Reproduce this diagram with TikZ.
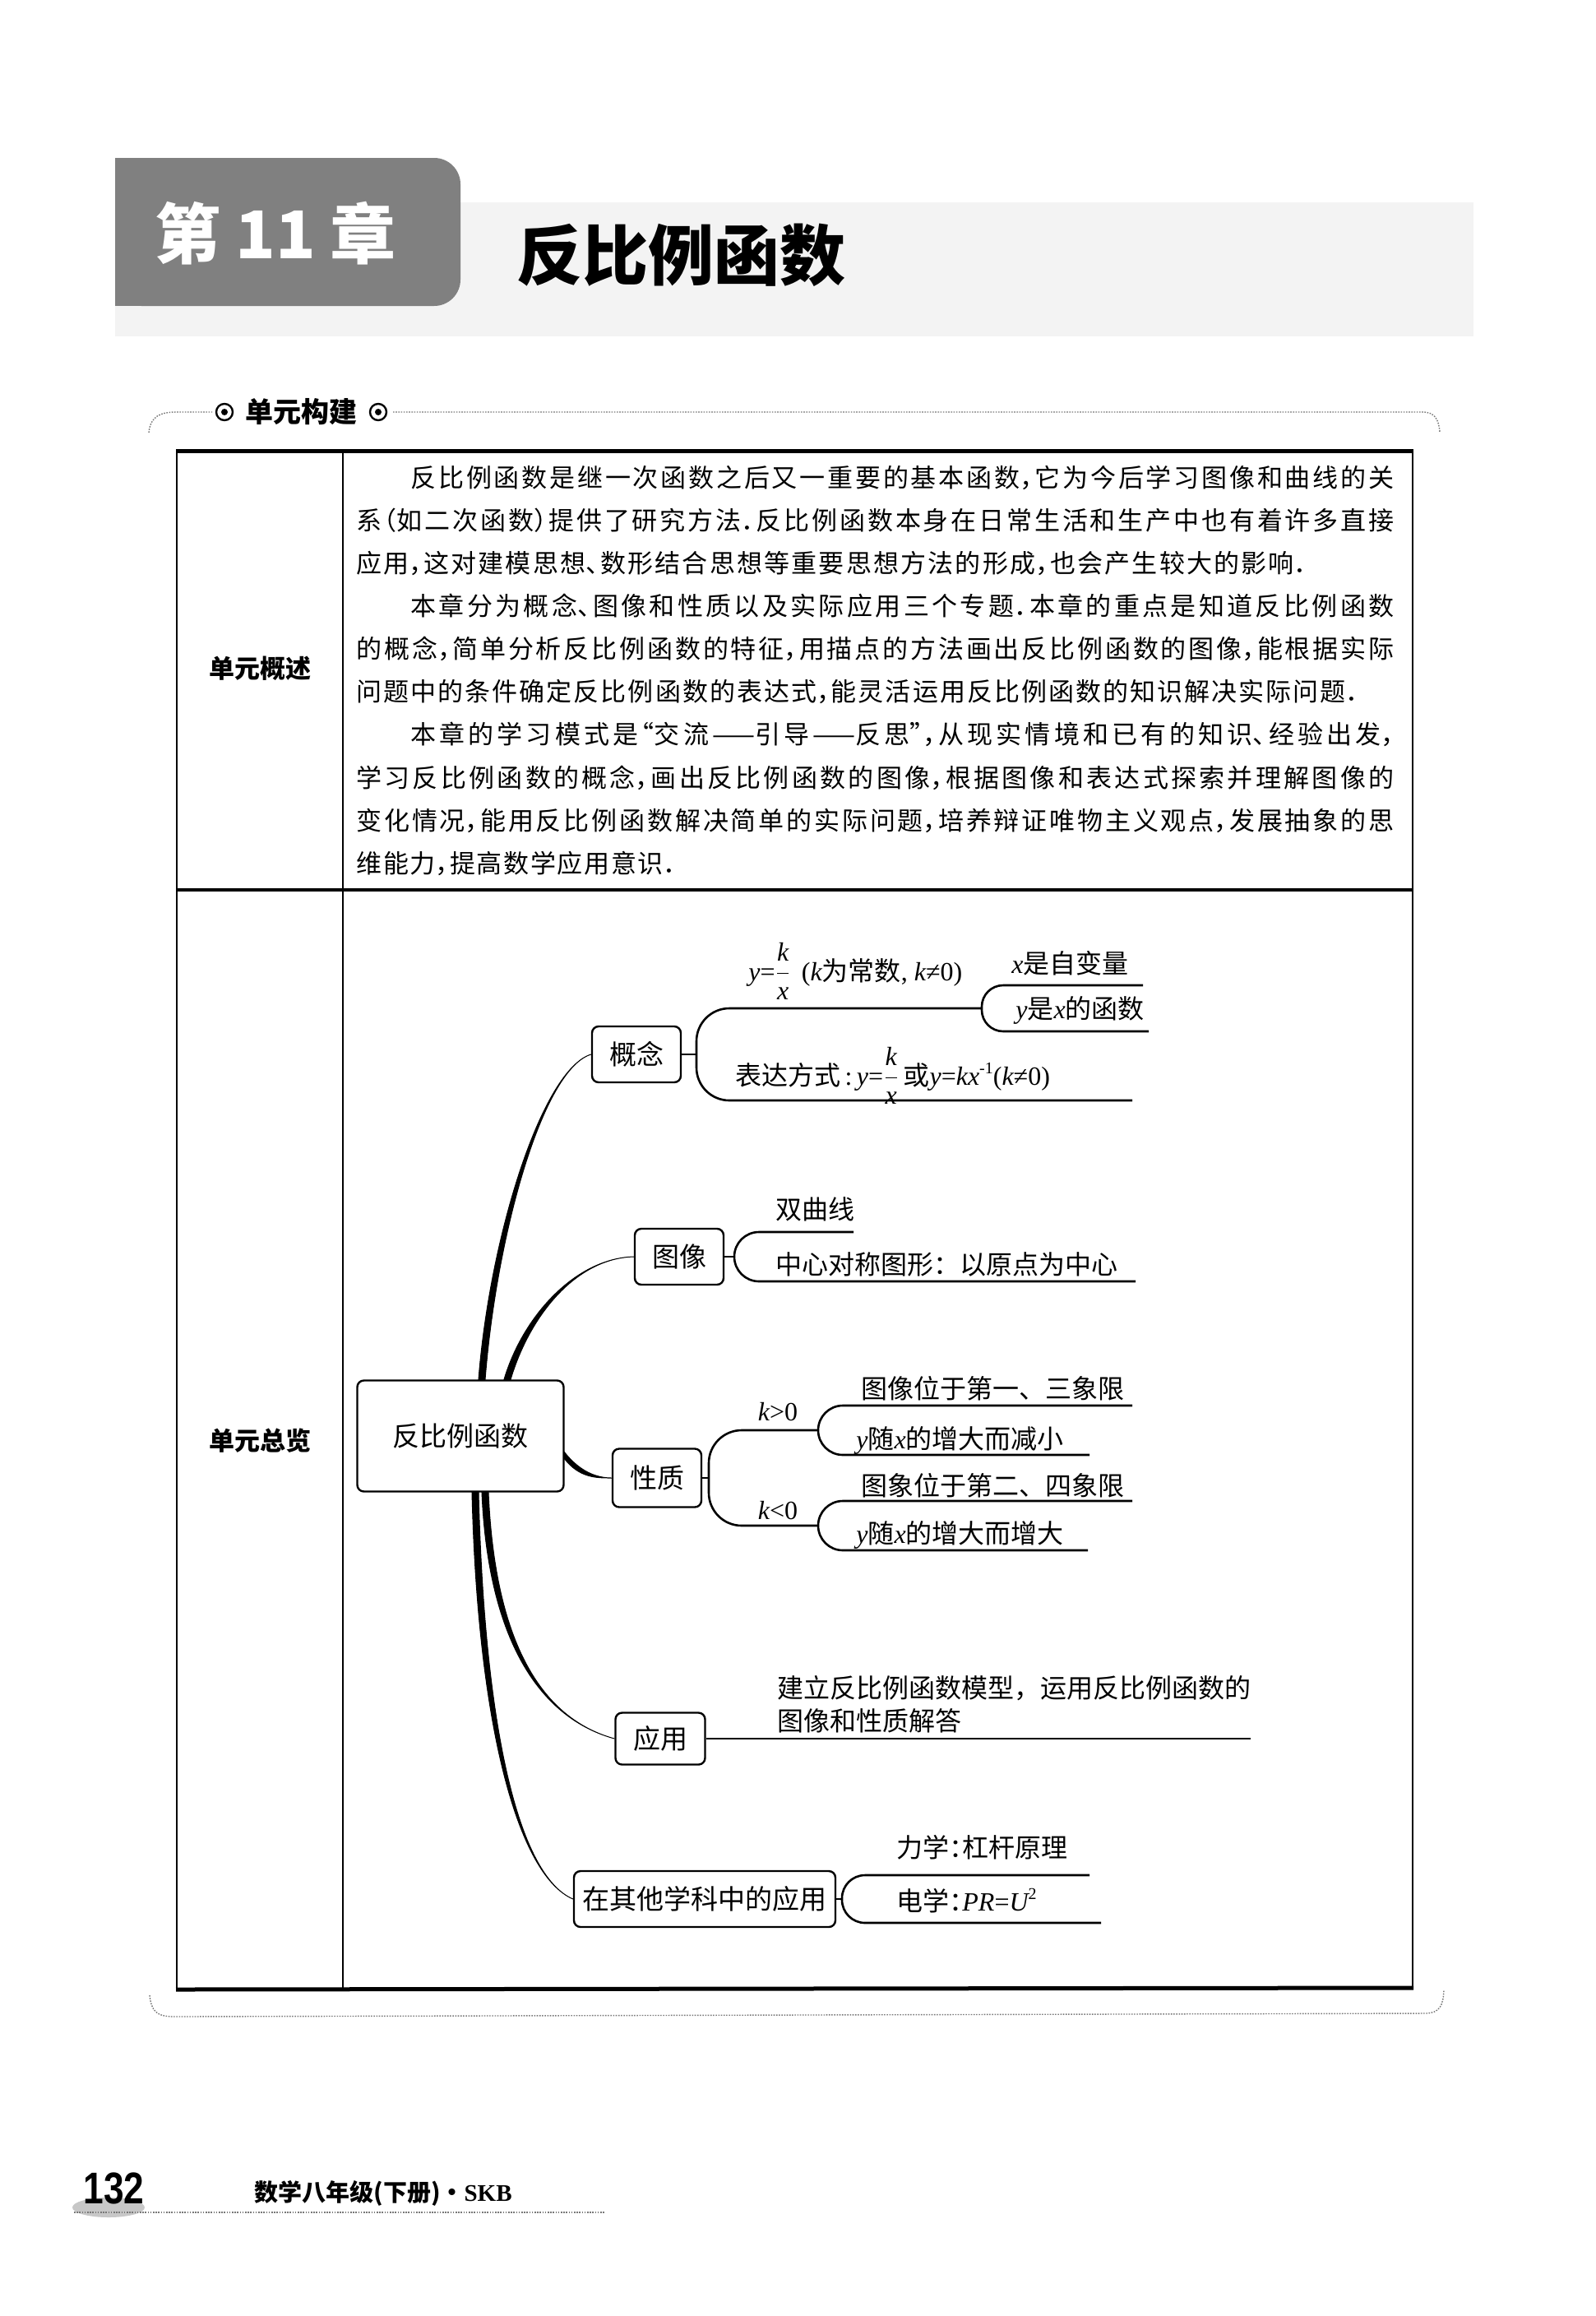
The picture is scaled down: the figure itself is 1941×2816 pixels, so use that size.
\documentclass[tikz,border=0pt]{standalone}
\usepackage{fontspec}
\usepackage{graphicx}
\usetikzlibrary{calc}
\newfontfamily\cjk{Noto Sans CJK SC}[RawFeature=+halt]
\newfontfamily\cjkplain{Noto Sans CJK SC}
\newfontfamily\numfont{Liberation Sans}
\newfontfamily\lat{Liberation Serif}
\XeTeXlinebreaklocale "zh"
\XeTeXlinebreakskip=0pt plus 4pt minus 1pt
\definecolor{titlegray}{RGB}{128,128,128}
\definecolor{bandgray}{RGB}{243,243,243}
\definecolor{dotgray}{RGB}{120,120,120}
\newcommand\bodyfont{\cjk\fontsize{15.5pt}{18pt}\selectfont}
\newcommand\mapfont{\cjkplain\fontsize{16pt}{20pt}\selectfont}
\newcommand\boxfont{\cjkplain\fontsize{16.5pt}{20pt}\selectfont}
\newcommand\li[1]{{\lat\itshape #1}}
\newcommand\lu[1]{{\lat #1}}
\newcommand\hc[1]{{\cjk #1}}
\newcommand\fr[2]{$\displaystyle\frac{\hbox{\li{#1}}}{\hbox{\li{#2}}}$}
\newcommand\sups[1]{\raisebox{0.75ex}{\lat\fontsize{10pt}{10pt}\selectfont #1}}
\newcommand\pline[4]{\node[para] (#1) at (#2) {\parbox[b]{#3}{\linepenalty=5000\relax\parfillskip=0pt\relax #4\par}};}
\newcommand\taper[5]{%
  \filldraw[line width=0.5pt] ($(#1)+(#5)$) .. controls ($(#2)+(#5)$) and (#3) .. (#4)
    .. controls (#3) and ($(#2)-(#5)$) .. ($(#1)-(#5)$) -- cycle;}
\tikzset{
  mbox/.style={draw, line width=1.2pt, rounded corners=4pt, inner sep=0pt, font=\boxfont},
  mtext/.style={anchor=base west, inner sep=0pt, font=\mapfont},
  branch/.style={line width=1.3pt},
  para/.style={anchor=base west, inner sep=0pt, font=\bodyfont},
  dotline/.style={dotgray, dash pattern=on 0.8pt off 0.8pt, line width=0.7pt},
}
\begin{document}
\begin{tikzpicture}[x=0.5pt,y=-0.5pt]
\useasboundingbox (0,0) rectangle (1941,2816);
\fill[white] (0,0) rectangle (1941,2816);

% title block
\fill[bandgray] (140,246) rectangle (1792,409);
\fill[titlegray, rounded corners=16pt] (140,192) rectangle (560,372);
\fill[titlegray] (140,192) rectangle (420,372);
\node[text=white, font=\cjkplain\bfseries\fontsize{40pt}{44pt}\selectfont] (chap) at (335,284) {第\hspace{9pt}11\hspace{9pt}章};
\node[anchor=west, inner sep=0pt, font=\cjkplain\bfseries\fontsize{40pt}{44pt}\selectfont] (ttl) at (628,310) {反比例函数};

% section header
\draw[dotline] (181,526) .. controls (183,506) and (195,501) .. (215,501) -- (258,501);
\draw[dotline] (478,501) -- (1730,501) .. controls (1745,501) and (1750,510) .. (1751,526);
\draw[line width=1.2pt] (273,501) circle (5pt);
\fill (273,501) circle (2pt);
\draw[line width=1.2pt] (460,501) circle (5pt);
\fill (460,501) circle (2pt);
\node[font=\cjkplain\bfseries\fontsize{17pt}{20pt}\selectfont] (hdr) at (366,501) {单元构建};

% table
\draw[line width=1.2pt] (215,548) -- (215,2419);
\draw[line width=1.2pt] (1718,548) -- (1718,2417);
\draw[line width=0.8pt] (417,548) -- (417,2419);
\draw[line width=1.8pt] (215,1082) -- (1718,1082);
\draw[line width=2.5pt] (214,548) -- (1719,548);
\draw[line width=2.5pt] (214,2419) -- (1719,2417);
\node[font=\cjkplain\bfseries\fontsize{15.5pt}{18pt}\selectfont] (lab1) at (316,813) {单元概述};
\node[font=\cjkplain\bfseries\fontsize{15.5pt}{18pt}\selectfont] (lab2) at (316,1752) {单元总览};

% paragraph
\pline{p1}{499,592}{598pt}{反比例函数是继一次函数之后又一重要的基本函数，它为今后学习图像和曲线的关}
\pline{p2}{433,644}{631pt}{系（如二次函数）提供了研究方法．反比例函数本身在日常生活和生产中也有着许多直接}
\pline{p3}{433,696}{578pt}{应用，这对建模思想、数形结合思想等重要思想方法的形成，也会产生较大的影响．}
\pline{p4}{499,748}{598pt}{本章分为概念、图像和性质以及实际应用三个专题．本章的重点是知道反比例函数}
\pline{p5}{433,800}{631pt}{的概念，简单分析反比例函数的特征，用描点的方法画出反比例函数的图像，能根据实际}
\pline{p6}{433,852}{609.5pt}{问题中的条件确定反比例函数的表达式，能灵活运用反比例函数的知识解决实际问题．}
\pline{p7}{499,904}{598pt}{本章的学习模式是“交流——引导——反思”，从现实情境和已有的知识、经验出发，}
\pline{p8}{433,957}{631pt}{学习反比例函数的概念，画出反比例函数的图像，根据图像和表达式探索并理解图像的}
\pline{p9}{433,1009}{631pt}{变化情况，能用反比例函数解决简单的实际问题，培养辩证唯物主义观点，发展抽象的思}
\pline{p10}{433,1061}{194.5pt}{维能力，提高数学应用意识．}

% mind map nodes
\node[mbox, minimum width=125.5pt, minimum height=67.5pt] (c) at (560,1746) {反比例函数};
\node[mbox, minimum width=54pt, minimum height=34pt] (g1) at (774,1282) {概念};
\node[mbox, minimum width=54pt, minimum height=34pt] (g2) at (826,1528) {图像};
\node[mbox, minimum width=54pt, minimum height=35.5pt] (g3) at (799,1797) {性质};
\node[mbox, minimum width=54.5pt, minimum height=31.5pt] (g4) at (803,2114) {应用};
\node[mbox, minimum width=159pt, minimum height=34pt] (g5) at (857,2309) {在其他学科中的应用};

% tapered connectors
\coordinate (s1) at ($(c.north)+(26,0)$);
\taper{s1}{600,1500}{660,1300}{g1.west}{4,0}
\coordinate (s2) at ($(c.north)+(57,0)$);
\taper{s2}{640,1600}{700,1530}{g2.west}{4,0}
\coordinate (s3) at ($(c.east)+(0,24)$);
\taper{s3}{705,1793}{725,1797}{g3.west}{0,4}
\coordinate (s4) at ($(c.south)+(30,0)$);
\taper{s4}{598,2000}{660,2090}{g4.west}{4,0}
\coordinate (s5) at ($(c.south)+(18,0)$);
\taper{s5}{585,2100}{630,2280}{g5.west}{4,0}

% 概念
\draw[branch] (g1.east) -- (847,1282);
\draw[branch, rounded corners=20pt] (1194,1226) -- (847,1226) -- (847,1338) -- (1377,1338);
\draw[branch, rounded corners=13pt] (1390,1198) -- (1194,1198) -- (1194,1254) -- (1397,1254);
\node[mtext] (t1) at (910,1192) {\li{y}\lu{=}\fr{k}{x}\lu{\ \,(}\li{k}为常数\lu{, }\li{k}\lu{≠0)}};
\node[mtext] (t2) at (1230,1183) {\li{x}是自变量};
\node[mtext] (t3) at (1235,1238) {\li{y}是\li{x}的函数};
\node[mtext] (t4) at (894,1319) {表达方式\lu{\,:\,}\li{y}\lu{=}\fr{k}{x}\,或\li{y}\lu{=}\li{kx}\sups{-1}\lu{(}\li{k}\lu{≠0)}};

% 图像
\draw[branch] (g2.east) -- (893,1528);
\draw[branch, rounded corners=15pt] (1038,1498) -- (893,1498) -- (893,1558) -- (1381,1558);
\node[mtext] (t5) at (943,1482) {双曲线};
\node[mtext] (t6) at (943,1549) {中心对称图形：以原点为中心};

% 性质
\draw[branch] (g3.east) -- (862,1797);
\draw[branch, rounded corners=20pt] (995,1739) -- (862,1739) -- (862,1855) -- (995,1855);
\draw[branch, rounded corners=15pt] (1377,1709) -- (995,1709) -- (995,1769) -- (1325,1769);
\draw[branch, rounded corners=15pt] (1377,1825) -- (995,1825) -- (995,1885) -- (1323,1885);
\node[mtext, anchor=base] (t7) at (946,1727) {\li{k}\lu{>0}};
\node[mtext, anchor=base] (t8) at (946,1847) {\li{k}\lu{<0}};
\node[mtext] (t9) at (1047,1700) {图像位于第一、三象限};
\node[mtext] (t10) at (1041,1761) {\li{y}随\li{x}的增大而减小};
\node[mtext] (t11) at (1047,1818) {图象位于第二、四象限};
\node[mtext] (t12) at (1041,1876) {\li{y}随\li{x}的增大而增大};

% 应用
\draw[branch] (g4.east) -- (1521,2114);
\node[mtext] (t13) at (945,2064) {建立反比例函数模型，运用反比例函数的};
\node[mtext] (t14) at (945,2104) {图像和性质解答};

% 其他学科
\draw[branch] (g5.east) -- (1024,2309);
\draw[branch, rounded corners=14pt] (1325,2280) -- (1024,2280) -- (1024,2338) -- (1339,2338);
\node[mtext] (t15) at (1090,2258) {力学\hc{：}杠杆原理};
\node[mtext] (t16) at (1090,2323) {电学\hc{：}\li{PR}\lu{=}\li{U}\sups{2}};

% bottom brace
\draw[dotline] (182,2426) .. controls (184,2445) and (190,2452) .. (212,2452) -- (1735,2448) .. controls (1750,2447) and (1755,2440) .. (1756,2420);

% footer
\fill[black!22] (132,2684) ellipse (22pt and 6pt);
\node[anchor=base west, inner sep=0pt, font=\numfont\bfseries\fontsize{27pt}{30pt}\selectfont] (pg) at (101,2679) {\scalebox{0.82}[1]{132}};
\node[anchor=west, inner sep=0pt, font=\cjkplain\bfseries\fontsize{14.5pt}{16pt}\selectfont] (ft) at (309,2667) {数学八年级(下册)·\lu{\bfseries SKB}};
\draw[dotline] (90,2690) -- (736,2690);
\end{tikzpicture}
\end{document}
